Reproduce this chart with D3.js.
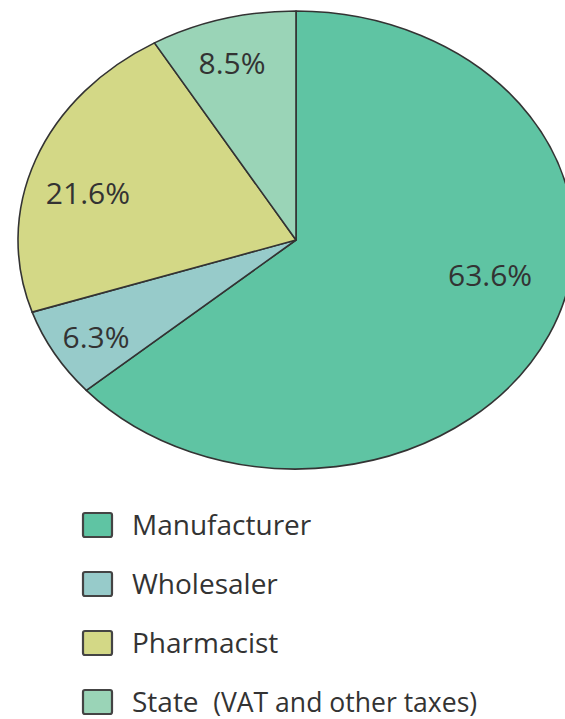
<!DOCTYPE html>
<html>
<head>
<meta charset="utf-8">
<script src="https://cdn.jsdelivr.net/npm/d3@7"></script>
<style>
  body { margin: 0; background: #fff; }
  svg { display: block; }
</style>
</head>
<body>
<div id="chart"></div>
<script>
// data
var categories = ["Manufacturer", "Wholesaler", "Pharmacist", "State  (VAT and other taxes)"];
var shares = [63.6, 6.3, 21.6, 8.5];
var labels = ["63.6%", "6.3%", "21.6%", "8.5%"];
var colors = ["#5fc4a3", "#97cbca", "#d3d886", "#9ad4b7"];

var width = 565, height = 719;
var cx = 296, cy = 240, rx = 278, ry = 229;

var svg = d3.select("#chart").append("svg")
    .attr("width", width)
    .attr("height", height);

var pie = d3.pie().sort(null).value(function(d) { return d; });
var arcs = pie(shares);

// draw on a circle of radius ry, then stretch it sideways into the ellipse
var arc = d3.arc().innerRadius(0).outerRadius(ry);

var g = svg.append("g")
    .attr("transform", "translate(" + cx + "," + cy + ") scale(" + (rx / ry) + ",1)");

g.selectAll("path")
    .data(arcs)
    .enter().append("path")
    .attr("d", arc)
    .attr("fill", function(d, i) { return colors[i]; })
    .attr("stroke", "#333")
    .attr("stroke-width", 1.6)
    .attr("stroke-linejoin", "round")
    .attr("vector-effect", "non-scaling-stroke");

// label placement: radius fraction and angle nudge (degrees) per slice
var labelRad = [0.715, 0.835, 0.776, 0.806];
var labelTurn = [-12, -0.8, -5.2, -1.3];
function labelPos(d, i) {
    var a = (d.startAngle + d.endAngle) / 2 + labelTurn[i] * Math.PI / 180;
    return [cx + Math.sin(a) * rx * labelRad[i], cy - Math.cos(a) * ry * labelRad[i]];
}

svg.selectAll("text.lbl")
    .data(arcs)
    .enter().append("text")
    .attr("class", "lbl")
    .attr("x", function(d, i) { return labelPos(d, i)[0]; })
    .attr("y", function(d, i) { return labelPos(d, i)[1]; })
    .attr("text-anchor", "middle")
    .attr("dy", "0.36em")
    .attr("font-family", "'Open Sans', sans-serif")
    .attr("font-size", 30)
    .attr("fill", "#333")
    .text(function(d, i) { return labels[i]; });

// legend
var legend = svg.append("g").attr("transform", "translate(82,525)");
var row = d3.scaleBand().domain(categories).range([0, 236]);

var item = legend.selectAll("g")
    .data(categories)
    .enter().append("g")
    .attr("transform", function(d) { return "translate(0," + row(d) + ")"; });

item.append("rect")
    .attr("x", 1).attr("y", -12)
    .attr("width", 29).attr("height", 24)
    .attr("rx", 2)
    .attr("fill", function(d, i) { return colors[i]; })
    .attr("stroke", "#444")
    .attr("stroke-width", 2.2);

var txt = item.append("text")
    .attr("x", 50)
    .attr("dy", "0.36em")
    .attr("font-family", "'Open Sans', sans-serif")
    .attr("font-size", 28)
    .attr("fill", "#333")
    .attr("style", "white-space: pre");

txt.each(function(d) {
    var t = d3.select(this);
    var k = d.indexOf("(");
    if (k < 0) {
        t.text(d);
    } else {
        // the bracketed part is set condensed in the original
        t.append("tspan").text(d.slice(0, k));
        t.append("tspan")
            .attr("textLength", 264)
            .attr("lengthAdjust", "spacingAndGlyphs")
            .text(d.slice(k));
    }
});
</script>
</body>
</html>
